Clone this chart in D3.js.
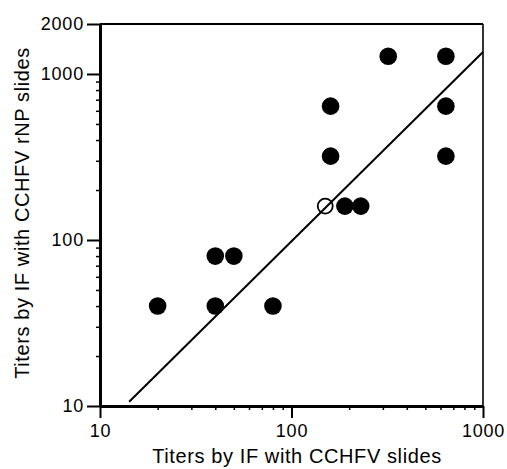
<!DOCTYPE html>
<html>
<head>
<meta charset="utf-8">
<script src="https://cdn.jsdelivr.net/npm/d3@7"></script>
<style>
  html, body { margin: 0; padding: 0; background: #fff; }
  svg { display: block; }
  text { font-family: "Liberation Sans", Arial, Helvetica, sans-serif; fill: #000; }
</style>
</head>
<body>
<svg id="chart" width="507" height="469"></svg>
<script>
// ---- data ----
const filledX = [20, 40, 40, 50, 80, 190, 230, 160, 160, 320, 640, 640, 640];
const filledY = [40, 40, 80, 80, 40, 160, 160, 320, 640, 1280, 1280, 640, 320];
const openX = [150];
const openY = [160];
const fitX = [14.2, 1000];
const fitY = [10.6, 1357];
const xTickLabels = [10, 100, 1000];
const yTickLabels = [10, 100, 1000, 2000];
const xMinorTicks = [20, 30, 40, 50, 60, 70, 80, 90, 200, 300, 400, 500, 600, 700, 800, 900];
const yMinorTicks = [20, 30, 40, 50, 60, 70, 80, 90, 200, 300, 400, 500, 600, 700, 800, 900];
const xTitle = "Titers by IF with CCHFV slides";
const yTitle = "Titers by IF with CCHFV rNP slides";

// ---- layout ----
const L = 100, R = 483, T = 24, B = 406;
const svg = d3.select("#chart");
const x = d3.scaleLog().domain([10, 1000]).range([L, R]);
const y = d3.scaleLog().domain([10, 2000]).range([B, T]);

// frame top & right
svg.append("line").attr("x1", L).attr("x2", R).attr("y1", T).attr("y2", T)
  .attr("stroke", "#000").attr("stroke-width", 2);
svg.append("line").attr("x1", R).attr("x2", R).attr("y1", T).attr("y2", B)
  .attr("stroke", "#000").attr("stroke-width", 1.6);

// fit line
svg.append("line")
  .attr("x1", x(fitX[0])).attr("y1", y(fitY[0]))
  .attr("x2", x(fitX[1])).attr("y2", y(fitY[1]))
  .attr("stroke", "#000").attr("stroke-width", 2);

// axes
function styleAxis(g, w) {
  g.select(".domain").attr("stroke-width", w);
  g.selectAll(".tick line").attr("stroke-width", 2);
  g.selectAll(".tick text").style("font-size", "18px").style("letter-spacing", "0.8px")
    .attr("fill", "#000");
}
const xMinor = svg.append("g").attr("transform", `translate(0,${B})`)
  .call(d3.axisBottom(x).tickValues(xMinorTicks).tickSize(4).tickFormat(""));
xMinor.select(".domain").remove();
xMinor.selectAll(".tick line").attr("stroke-width", 1.5);
const yMinor = svg.append("g").attr("transform", `translate(${L},0)`)
  .call(d3.axisLeft(y).tickValues(yMinorTicks).tickSize(4).tickFormat(""));
yMinor.select(".domain").remove();
yMinor.selectAll(".tick line").attr("stroke-width", 1.5);

const xAxis = svg.append("g").attr("transform", `translate(0,${B})`)
  .call(d3.axisBottom(x).tickValues(xTickLabels).tickSize(12).tickSizeOuter(0)
    .tickPadding(6).tickFormat(d3.format("d")));
styleAxis(xAxis, 3);
const yAxis = svg.append("g").attr("transform", `translate(${L},0)`)
  .call(d3.axisLeft(y).tickValues(yTickLabels).tickSize(13).tickSizeOuter(0)
    .tickPadding(3).tickFormat(d3.format("d")));
styleAxis(yAxis, 3);

// points
svg.append("g").selectAll("circle.f").data(filledX.map((d, i) => [d, filledY[i]]))
  .join("circle").attr("class", "f")
  .attr("cx", d => x(d[0])).attr("cy", d => y(d[1])).attr("r", 8.8)
  .attr("fill", "#000");
svg.append("g").selectAll("circle.o").data(openX.map((d, i) => [d, openY[i]]))
  .join("circle").attr("class", "o")
  .attr("cx", d => x(d[0])).attr("cy", d => y(d[1])).attr("r", 7.5)
  .attr("fill", "none").attr("stroke", "#000").attr("stroke-width", 1.8);

// titles
svg.append("text").attr("x", 297).attr("y", 463).attr("text-anchor", "middle")
  .style("font-size", "20px").style("letter-spacing", "0.6px").text(xTitle);
svg.append("text").attr("transform", "translate(29,213) rotate(-90)")
  .attr("text-anchor", "middle")
  .style("font-size", "20px").style("letter-spacing", "0.6px").text(yTitle);
</script>
</body>
</html>
